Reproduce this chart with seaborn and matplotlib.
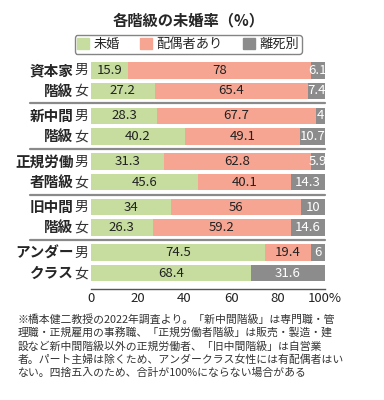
import numpy as np
import pandas as pd
import matplotlib
matplotlib.use("Agg")
import matplotlib.pyplot as plt
import matplotlib.patches as mpatches
import matplotlib.transforms as mtransforms
import seaborn as sns

# データ
階級 = ["資本家\n階級", "新中間\n階級", "正規労働\n者階級", "旧中間\n階級", "アンダー\nクラス"]
性別 = ["男", "女"]
未婚 = [15.9, 27.2, 28.3, 40.2, 31.3, 45.6, 34, 26.3, 74.5, 68.4]
配偶者あり = [78, 65.4, 67.7, 49.1, 62.8, 40.1, 56, 59.2, 19.4, 0]
離死別 = [6.1, 7.4, 4, 10.7, 5.9, 14.3, 10, 14.6, 6, 31.6]
目盛 = [0, 20, 40, 60, 80, 100]
目盛ラベル = ["0", "20", "40", "60", "80", "100%"]

緑 = "#c6dd9f"
赤 = "#f5a592"
灰 = "#8c8c8c"

sns.set_theme(style="white")
plt.rcParams["font.family"] = ["Noto Sans CJK JP", "DejaVu Sans"]

間隔 = 2.22
pos = []
for i in range(len(階級)):
    pos += [i * 間隔, i * 間隔 + 1]

df = pd.DataFrame({"pos": pos, "未婚": 未婚, "配偶者あり": 配偶者あり, "離死別": 離死別})
df["c1"] = df["未婚"]
df["c2"] = df["c1"] + df["配偶者あり"]
df["c3"] = df["c2"] + df["離死別"]

fig = plt.figure(figsize=(3.84, 4.0), dpi=100)
ax = fig.add_axes([0.237, 0.277, 0.609, 0.578])

for col, c in [("c3", 灰), ("c2", 赤), ("c1", 緑)]:
    sns.barplot(data=df, x=col, y="pos", orient="h", native_scale=True,
                color=c, width=0.8, linewidth=0, saturation=1, ax=ax, errorbar=None)

ax.set_xlim(0, 100)
ax.set_ylim(pos[-1] + 0.78, -0.6)

# セグメントの数値
for _, r in df.iterrows():
    segs = [(0, r["未婚"], "#222222"), (r["c1"], r["配偶者あり"], "#222222"),
            (r["c2"], r["離死別"], "white")]
    for left, w, tc in segs:
        if w <= 0:
            continue
        txt = f"{w:g}"
        ax.text(left + w / 2, r["pos"], txt, ha="center", va="center",
                fontsize=9.5, color=tc)

# 階級・性別ラベル
trans = mtransforms.blended_transform_factory(ax.transAxes, ax.transData)
for i, name in enumerate(階級):
    y0 = i * 間隔
    ax.text(-0.075, y0 + 0.5, name, transform=trans, ha="right", va="center",
            fontsize=10.5, fontweight="bold", linespacing=1.3)
    for j, s in enumerate(性別):
        ax.text(-0.012, y0 + j, s, transform=trans, ha="right", va="center",
                fontsize=10, color="#333333")
    if i < len(階級) - 1:
        ysep = y0 + 1 + (間隔 - 1) / 2
        ax.plot([-0.26, 1.0], [ysep, ysep], transform=trans, color="#8a8a8a",
                lw=1.6, clip_on=False)

ax.set_ylabel("")
ax.set_xlabel("")
ax.set_yticks([])
ax.set_xticks(目盛)
ax.set_xticklabels(目盛ラベル, fontsize=9.5, color="#222222")
ax.tick_params(axis="x", direction="in", length=5, width=1, color="#555555", pad=2)
for s in ["top", "right", "left"]:
    ax.spines[s].set_visible(False)
ax.spines["bottom"].set_color("#555555")
ax.spines["bottom"].set_linewidth(1)

# タイトルと凡例
fig.text(0.49, 0.95, "各階級の未婚率（%）", ha="center", va="center",
         fontsize=11, fontweight="bold")
handles = [mpatches.Patch(color=緑, label="未婚"),
           mpatches.Patch(color=赤, label="配偶者あり"),
           mpatches.Patch(color=灰, label="離死別")]
leg = fig.legend(handles=handles, loc="center", bbox_to_anchor=(0.49, 0.889), ncol=3,
                 fontsize=9.5, frameon=True, fancybox=True, edgecolor="#666666",
                 handlelength=0.9, handleheight=0.9, handletextpad=0.35,
                 columnspacing=1.5, borderpad=0.2)
leg.get_frame().set_linewidth(1)

# 注記
注記 = ("※橋本健二教授の2022年調査より。「新中間階級」は専門職・管\n"
      "理職・正規雇用の事務職、「正規労働者階級」は販売・製造・建\n"
      "設など新中間階級以外の正規労働者、「旧中間階級」は自営業\n"
      "者。パート主婦は除くため、アンダークラス女性には有配偶者はい\n"
      "ない。四捨五入のため、合計が100%にならない場合がある")
fig.text(0.045, 0.215, 注記, ha="left", va="top", fontsize=7.8,
         linespacing=1.3, color="#333333")

fig.savefig("out.png", dpi=100)
